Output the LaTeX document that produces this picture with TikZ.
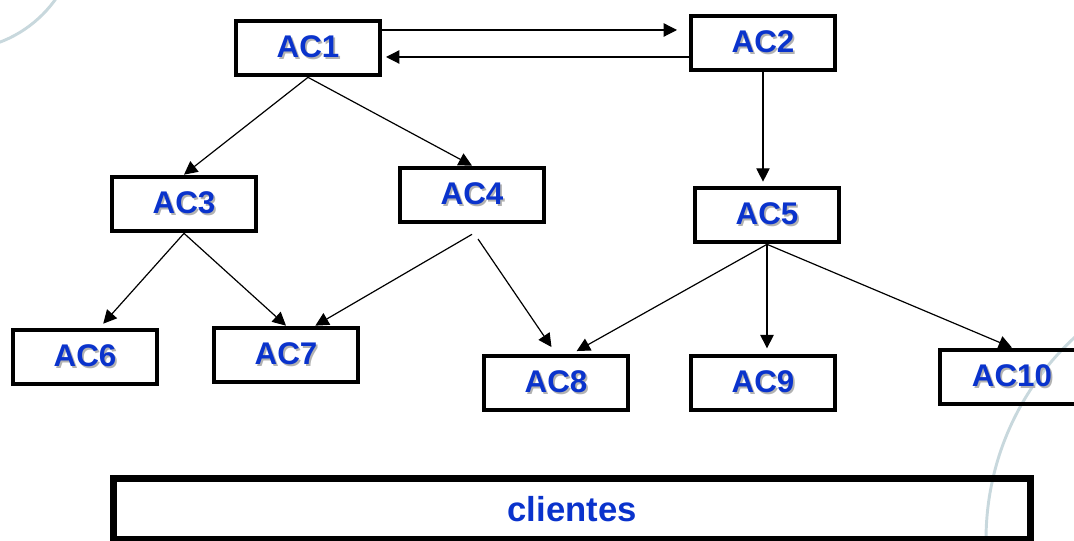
\documentclass[tikz,border=0pt]{standalone}
\usepackage{fontspec}
\setmainfont{Liberation Sans}
\usetikzlibrary{arrows.meta, positioning, calc}

\definecolor{acblue}{HTML}{0A33CC}
\definecolor{arcgray}{HTML}{C8D8DD}
\newcommand{\shtext}[1]{\makebox[0pt][l]{\hspace{1.3pt}\raisebox{-1.3pt}{\textcolor{black!30}{#1}}}\textcolor{acblue}{#1}}

\begin{document}
\begin{tikzpicture}[x=0.75pt, y=-0.75pt,
    acbox/.style={draw, line width=3pt, rectangle, minimum width=108pt, minimum height=41pt, inner sep=0pt, font=\fontsize{23.5}{28}\selectfont\bfseries},
    link/.style={line width=0.9pt, -{Triangle[length=10pt,width=10pt]}},
    bgarc/.style={draw=arcgray, line width=2.2pt}
]
\useasboundingbox (0,0) rectangle (1074,541);
\clip (0,0) rectangle (1074,541);

% background arcs
\draw[bgarc] (-43,-71) circle (121);
\draw[bgarc] (1262,540) circle (276);

% top level
\node[acbox] (ac1) at (308,48) {\shtext{AC1}};
\node[acbox] (ac2) at (763,43) {\shtext{AC2}};

% second level
\node[acbox] (ac3) at (184,204) {\shtext{AC3}};
\node[acbox] (ac4) at (472,195) {\shtext{AC4}};
\node[acbox] (ac5) at (767,215) {\shtext{AC5}};

% third level
\node[acbox] (ac6) at (85,357) {\shtext{AC6}};
\node[acbox] (ac7) at (286,355) {\shtext{AC7}};
\node[acbox] (ac8) at (556,383) {\shtext{AC8}};
\node[acbox] (ac9) at (763,383) {\shtext{AC9}};
\node[acbox] (ac10) at (1012,377) {\shtext{AC10}};

% clients
\node[draw, line width=5pt, rectangle, minimum width=687.75pt, minimum height=45.4pt, inner sep=0pt,
      font=\fontsize{26}{31}\selectfont\bfseries, text=acblue] (cli) at (572,509) {clientes};

% AC1 <-> AC2
\coordinate (r1) at ([yshift=13.5pt]ac1.east);
\draw[link, shorten >=9pt] (r1) -- (r1 -| ac2.west);
\coordinate (r2) at ([yshift=-10.5pt]ac2.west);
\draw[link, shorten >=3pt] (r2) -- (r2 -| ac1.east);

% AC1 and AC2 down
\draw[link] (ac1.south) -- (ac3.north);
\draw[link] (ac1.south) -- (ac4.north);
\draw[link, shorten >=3pt] (ac2.south) -- (ac2.south |- ac5.north);

% AC3 and AC4 down
\draw[link, shorten >=4pt] (ac3.south) -- ([xshift=11pt]ac6.north);
\draw[link] (ac3.south) -- (ac7.north);
\draw[link] ([yshift=-7.5pt]ac4.south) -- ([xshift=22pt]ac7.north);
\draw[link, shorten >=6pt] ([xshift=4.5pt,yshift=-11pt]ac4.south) -- (ac8.north);

% AC5 down
\draw[link, shorten >=4pt] (ac5.south) -- ([xshift=12pt]ac8.north);
\draw[link, shorten >=4pt] (ac5.south) -- (ac5.south |- ac9.north);
\draw[link] (ac5.south) -- (ac10.north);

\end{tikzpicture}
\end{document}
